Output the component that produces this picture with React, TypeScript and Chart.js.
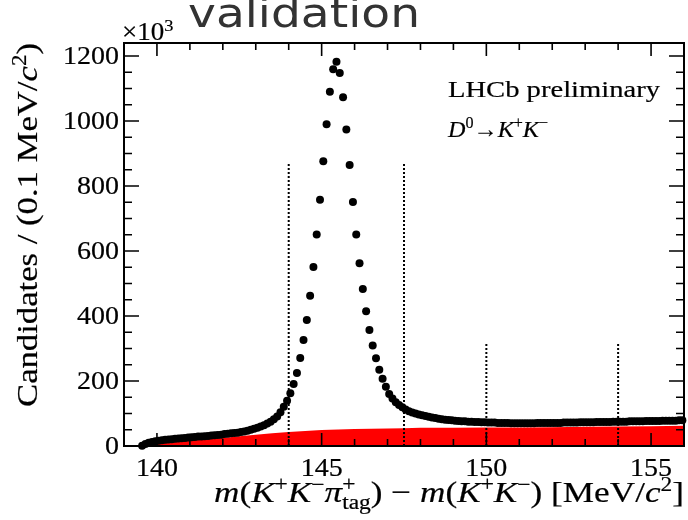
import React, { useEffect, useRef } from "react";
import { Chart, registerables } from "chart.js";

Chart.register(...registerables);

// ---- histogram binning (0.1 MeV/c^2 per bin) ----
const binFirstCenter = 139.55;
const binWidth = 0.1;

// candidates per bin (x10^3), bins 139.55 ... 155.95
const counts: number[] = [
  1, 6, 10, 12, 15, 16, 18, 19, 20, 21,
  22, 23, 24, 25, 26, 27, 28, 29, 29, 30,
  31, 32, 33, 34, 35, 37, 38, 39, 40, 41,
  43, 45, 47, 50, 53, 56, 60, 64, 69, 75,
  82, 91, 104, 121, 139, 162, 191, 225, 271, 326,
  388, 462, 551, 651, 758, 876, 990, 1090, 1159, 1182,
  1148, 1073, 974, 865, 751, 651, 562, 483, 415, 357,
  309, 270, 235, 207, 182, 160, 146, 135, 126, 119,
  112, 107, 103, 100, 97, 95, 92, 90, 88, 86,
  84, 82, 81, 80, 79, 78, 77, 76, 76, 75,
  75, 74, 74, 73, 73, 72, 72, 72, 71, 71,
  71, 71, 70, 70, 70, 70, 70, 70, 70, 70,
  71, 71, 71, 71, 71, 71, 71, 71, 72, 72,
  72, 72, 72, 73, 73, 73, 73, 73, 74, 74,
  74, 74, 74, 75, 75, 75, 75, 75, 76, 76,
  76, 76, 76, 77, 77, 77, 77, 77, 78, 78,
  78, 78, 78, 79, 79,
];

// background component (red area)
const bkgX: number[] = [139.55, 139.6, 139.7, 139.8, 140, 140.5, 141, 141.5, 142, 142.5, 143, 143.5, 144, 144.5, 145, 145.5, 146, 146.5, 147, 147.5, 148, 149, 150, 151, 152, 153, 154, 155, 156];
const bkgY: number[] = [0, 3, 7, 9, 12, 15, 18, 21, 25, 30, 35, 39, 43, 46, 49, 51, 52, 53, 54, 55, 56, 56, 57, 57, 58, 59, 60, 61, 62];

// dotted vertical lines (signal window / sideband)
const cutX: number[] = [144, 147.5, 150, 154];
const cutH: number[] = [870, 870, 315, 315];

// axes
const xMin = 139;
const xMax = 156;
const yMin = 0;
const yMax = 1240;
const xMajorTicks: number[] = [140, 145, 150, 155];
const xMinorTicks: number[] = [139, 140, 141, 142, 143, 144, 145, 146, 147, 148, 149, 150, 151, 152, 153, 154, 155, 156];
const yMajorTicks: number[] = [0, 200, 400, 600, 800, 1000, 1200];
const yMinorTicks: number[] = [0, 50, 100, 150, 200, 250, 300, 350, 400, 450, 500, 550, 600, 650, 700, 750, 800, 850, 900, 950, 1000, 1050, 1100, 1150, 1200];

const SERIF = "'Liberation Serif'";
const SANS = "'DejaVu Sans'";

interface Seg { t?: string; it?: boolean; v?: "sup" | "sub"; up?: string; dn?: string }

function fontFor(size: number, it: boolean, fam: string) {
  return `${it ? "italic " : ""}${size}px ${fam}`;
}

function layoutRich(ctx: CanvasRenderingContext2D, segs: Seg[], size: number, fam: string) {
  let w = 0;
  const items: { t: string; x: number; dy: number; font: string }[] = [];
  for (const s of segs) {
    if (s.up !== undefined) {
      const f = fontFor(Math.round(size * 0.68), false, fam);
      ctx.font = f;
      const w1 = ctx.measureText(s.up).width;
      const w2 = ctx.measureText(s.dn || "").width;
      items.push({ t: s.up, x: w, dy: -size * 0.37, font: f });
      items.push({ t: s.dn || "", x: w, dy: size * 0.24, font: f });
      w += Math.max(w1, w2);
    } else {
      const fs = s.v ? Math.round(size * 0.68) : size;
      const f = fontFor(fs, !!s.it, fam);
      ctx.font = f;
      const dy = s.v === "sup" ? -size * 0.37 : s.v === "sub" ? size * 0.24 : 0;
      items.push({ t: s.t || "", x: w, dy, font: f });
      w += ctx.measureText(s.t || "").width;
    }
  }
  return { items, w };
}

function drawRich(
  ctx: CanvasRenderingContext2D,
  segs: Seg[],
  size: number,
  fam: string,
  x: number,
  y: number,
  opts: { align?: "left" | "center" | "right"; width?: number; sx?: number; rot?: number; color?: string; bold?: number }
) {
  const { items, w } = layoutRich(ctx, segs, size, fam);
  const sx = opts.width ? opts.width / w : opts.sx ?? 1;
  const tw = w * sx;
  const x0 = opts.align === "center" ? -tw / 2 : opts.align === "right" ? -tw : 0;
  ctx.save();
  ctx.translate(x, y);
  if (opts.rot) ctx.rotate(opts.rot);
  ctx.translate(x0, 0);
  ctx.scale(sx, 1);
  ctx.fillStyle = opts.color ?? "#000";
  ctx.strokeStyle = opts.color ?? "#000";
  ctx.lineWidth = opts.bold ?? 0;
  ctx.lineJoin = "round";
  ctx.textBaseline = "alphabetic";
  ctx.textAlign = "left";
  for (const it of items) {
    ctx.font = it.font;
    ctx.fillText(it.t, it.x, it.dy);
    if (opts.bold) ctx.strokeText(it.t, it.x, it.dy);
  }
  ctx.restore();
}

const framePlugin = {
  id: "rootFrame",
  afterDraw(chart: any) {
    const { ctx, chartArea: a, scales } = chart;
    const xs = scales.x;
    const ys = scales.y;
    ctx.save();
    // ticks
    ctx.strokeStyle = "#000";
    ctx.lineWidth = 1.6;
    ctx.beginPath();
    for (const v of xMinorTicks) {
      const px = xs.getPixelForValue(v);
      const len = xMajorTicks.includes(v) ? 13 : 7;
      ctx.moveTo(px, a.bottom);
      ctx.lineTo(px, a.bottom - len);
      ctx.moveTo(px, a.top);
      ctx.lineTo(px, a.top + len);
    }
    for (const v of yMinorTicks) {
      const py = ys.getPixelForValue(v);
      const len = yMajorTicks.includes(v) ? 15 : 8;
      ctx.moveTo(a.left, py);
      ctx.lineTo(a.left + len, py);
      ctx.moveTo(a.right, py);
      ctx.lineTo(a.right - len, py);
    }
    ctx.stroke();
    // frame
    ctx.lineWidth = 2;
    ctx.strokeRect(a.left, a.top, a.right - a.left, a.bottom - a.top);

    const B = 0.2;
    // tick labels
    for (const v of xMajorTicks) {
      const px = xs.getPixelForValue(v);
      drawRich(ctx, [{ t: String(v) }], 25, SERIF, px, 476, { align: "center", sx: 1.12, bold: B });
    }
    for (const v of yMajorTicks) {
      const py = ys.getPixelForValue(v);
      drawRich(ctx, [{ t: String(v) }], 25, SERIF, 119, py + 8, { align: "right", sx: 1.12, bold: B });
    }
    // x10^3
    drawRich(ctx, [{ t: "×10" }, { t: "3", v: "sup" }], 25, SERIF, 122, 40, { align: "left", sx: 1.08, bold: B });

    // axis titles
    drawRich(
      ctx,
      [
        { t: "m", it: true }, { t: "(" }, { t: "K", it: true }, { t: "+", v: "sup" },
        { t: "K", it: true }, { t: "−", v: "sup" }, { t: "π", it: true }, { up: "+", dn: "tag" },
        { t: ") − " }, { t: "m", it: true }, { t: "(" }, { t: "K", it: true }, { t: "+", v: "sup" },
        { t: "K", it: true }, { t: "−", v: "sup" }, { t: ") [MeV/" }, { t: "c", it: true },
        { t: "2", v: "sup" }, { t: "]" },
      ],
      30, SERIF, 684, 502, { align: "right", width: 470, bold: B }
    );
    drawRich(
      ctx,
      [{ t: "Candidates / (0.1 MeV/" }, { t: "c", it: true }, { t: "2", v: "sup" }, { t: ")" }],
      30, SERIF, 37, 225, { align: "center", width: 364, rot: -Math.PI / 2, bold: B }
    );

    // labels in the plot
    drawRich(ctx, [{ t: "LHCb preliminary" }], 24, SERIF, 448, 97, { align: "left", width: 212, bold: B });
    drawRich(
      ctx,
      [{ t: "D", it: true }, { t: "0", v: "sup" }, { t: "→" }, { t: "K", it: true }, { t: "+", v: "sup" }, { t: "K", it: true }, { t: "−", v: "sup" }],
      24, SERIF, 448, 137, { align: "left", width: 100, bold: B }
    );

    // title
    drawRich(ctx, [{ t: "validation" }], 40, SANS, 188, 27, { align: "left", width: 232, color: "#333333" });
    ctx.restore();
  },
};

export default function App() {
  const ref = useRef<HTMLCanvasElement | null>(null);

  useEffect(() => {
    if (!ref.current) return;
    const points = counts.map((c, i) => ({ x: +(binFirstCenter + i * binWidth).toFixed(2), y: c }));
    const bkg = bkgX.map((x, i) => ({ x, y: bkgY[i] }));
    const cutSets = cutX.map((x, i) => ({
      type: "line" as const,
      data: [{ x, y: 0 }, { x, y: cutH[i] }],
      borderColor: "#000",
      borderWidth: 2,
      borderDash: [2, 2],
      pointRadius: 0,
      fill: false,
      order: 1,
    }));
    const chart = new Chart(ref.current, {
      type: "line",
      data: {
        datasets: [
          {
            data: points,
            showLine: false,
            pointRadius: 4,
            pointHoverRadius: 4,
            pointBackgroundColor: "#000",
            pointBorderWidth: 0,
            borderColor: "#000",
            clip: false as any,
            order: 0,
          },
          ...cutSets,
          {
            data: bkg,
            borderWidth: 0,
            borderColor: "#ff0000",
            backgroundColor: "#ff0000",
            pointRadius: 0,
            fill: "origin",
            tension: 0,
            order: 2,
          },
        ] as any,
      },
      options: {
        animation: false,
        responsive: false,
        devicePixelRatio: 1,
        layout: { padding: { left: 124, top: 43, right: 2, bottom: 74 } },
        plugins: { legend: { display: false }, tooltip: { enabled: false }, title: { display: false } },
        events: [],
        scales: {
          x: {
            type: "linear",
            min: xMin,
            max: xMax,
            ticks: { display: false },
            grid: { display: false, drawTicks: false },
            border: { display: false },
            afterFit: (s: any) => { s.height = 0; },
          },
          y: {
            type: "linear",
            min: yMin,
            max: yMax,
            ticks: { display: false },
            grid: { display: false, drawTicks: false },
            border: { display: false },
            afterFit: (s: any) => { s.width = 0; },
          },
        },
      } as any,
      plugins: [framePlugin],
    });
    return () => chart.destroy();
  }, []);

  return (
    <div style={{ position: "fixed", left: 0, top: 0, width: 688, height: 520, background: "#fff" }}>
      <canvas ref={ref} width={688} height={520} style={{ width: 688, height: 520, display: "block" }} />
    </div>
  );
}
